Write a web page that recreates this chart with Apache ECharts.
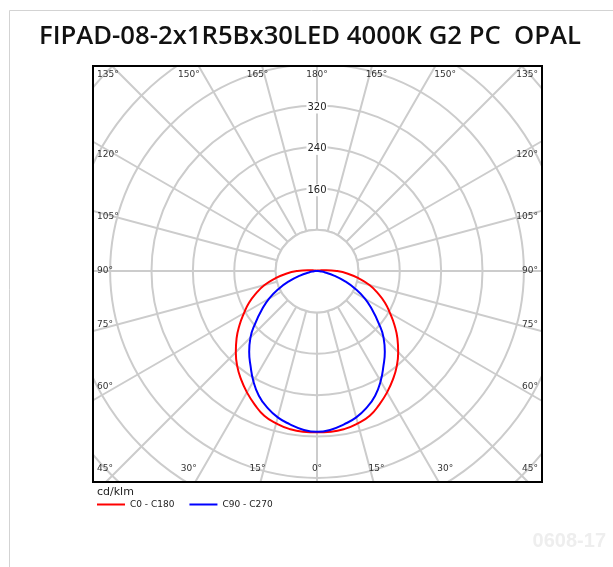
<!DOCTYPE html>
<html>
<head>
<meta charset="utf-8">
<script src="https://cdn.jsdelivr.net/npm/echarts@6/dist/echarts.min.js"></script>
<style>html,body{margin:0;padding:0;background:#fff;}#c{width:613px;height:567px;}</style>
</head>
<body>
<div id="c"></div>
<script>
// ---- data ----
const gammas = [0,5,10,15,20,25,30,35,40,45,50,55,60,65,70,75,80,85,90,95,100,105,120,135,150,165,180];
const c0c180 = [312,312,310,305,298,285,271,256,240,222,203,183,163,145,125,105,82,60,38,18,8,4,2,1,1,1,1];
const c90c270 = [311,308,301,293,281,266,246,224,204,182,155,130,107,82,57,34,16,6,2,1,0,0,0,0,0,0,0];
const radiusLabels = [160, 240, 320];
const topLabels = ['135°','150°','165°','180°','165°','150°','135°'];
const sideLabels = ['120°','105°','90°','75°','60°'];
const bottomLabels = ['45°','30°','15°','0°','15°','30°','45°'];
const seriesNames = ['C0 - C180', 'C90 - C270'];
const titleText = 'FIPAD-08-2x1R5Bx30LED 4000K G2 PC  OPAL';
const unitText = 'cd/klm';
const watermark = '0608-17';

// ---- layout ----
const CX = 317, CY = 271;
const RMAX = 640, RPX = 331;
const F = {l: 93, t: 66, r: 542, b: 482};
const LBL_FONT = 'DejaVu Sans';

// polar: startAngle 90 (top), clockwise. right half: a = 180 - gamma, left half: a = 180 + gamma
function buildCurve(vals) {
  const pts = [];
  for (let i = gammas.length - 1; i >= 0; i--) pts.push([vals[i], 180 - gammas[i]]);
  for (let i = 1; i < gammas.length; i++) pts.push([vals[i], 180 + gammas[i]]);
  return pts;
}

const graphics = [];
const W = 613, H = 567;
[[0,0,W,F.t],[0,F.b,W,H-F.b],[0,0,F.l,H],[F.r,0,W-F.r,H]].forEach(r => {
  graphics.push({type:'rect', z:50, silent:true, shape:{x:r[0],y:r[1],width:r[2],height:r[3]}, style:{fill:'#fff'}});
});
const holeR = 80 * RPX / RMAX;
graphics.push({type:'circle', z:5, silent:true, shape:{cx:CX, cy:CY, r:holeR}, style:{fill:'#fff', stroke:'#cccccc', lineWidth:2}});
graphics.push({type:'rect', z:51, silent:true, shape:{x:F.l, y:F.t, width:F.r-F.l, height:F.b-F.t}, style:{fill:null, stroke:'#000', lineWidth:2}});
graphics.push({type:'rect', z:52, silent:true, shape:{x:9.5, y:10.5, width:800, height:800}, style:{fill:null, stroke:'#d3d3d3', lineWidth:1}});
graphics.push({type:'text', z:60, x:310, y:37, style:{text:titleText, font:'600 25.7px "Open Sans"', fill:'#111', textAlign:'center', textVerticalAlign:'middle'}});
graphics.push({type:'text', z:60, x:97, y:492, style:{text:unitText, font:'11px "DejaVu Sans"', fill:'#222', textAlign:'left', textVerticalAlign:'middle'}});
graphics.push({type:'text', z:60, x:606, y:541, style:{text:watermark, font:'bold 20px "Liberation Sans"', fill:'#eeeeee', textAlign:'right', textVerticalAlign:'middle'}});

const HX = 222, HY = 201;
const lblStyle = (t, align) => ({text:t, font:'9px "' + LBL_FONT + '"', fill:'#333', textAlign:align, textVerticalAlign:'middle'});
const rowPhis = [-45,-30,-15,0,15,30,45];
function rowX(i) {
  const p = rowPhis[i];
  if (p === -45) return {x: F.l + 4, a: 'left'};
  if (p === 45) return {x: F.r - 4, a: 'right'};
  return {x: CX + HX * Math.tan(p * Math.PI / 180), a: 'center'};
}
topLabels.forEach((t, i) => { const p = rowX(i); graphics.push({type:'text', z:55, x:p.x, y:F.t + 9, style: lblStyle(t, p.a)}); });
bottomLabels.forEach((t, i) => { const p = rowX(i); graphics.push({type:'text', z:55, x:p.x, y:F.b - 13, style: lblStyle(t, p.a)}); });
const sidePsis = [30,15,0,-15,-30];
sideLabels.forEach((t, i) => {
  const y = CY - HY * Math.tan(sidePsis[i] * Math.PI / 180);
  graphics.push({type:'text', z:55, x:F.l + 4, y:y, style: lblStyle(t, 'left')});
  graphics.push({type:'text', z:55, x:F.r - 4, y:y, style: lblStyle(t, 'right')});
});

const chart = echarts.init(document.getElementById('c'), null, {renderer:'canvas', width:613, height:567});
chart.setOption({
  animation: false,
  backgroundColor: '#fff',
  polar: {center: [CX, CY], radius: RPX},
  angleAxis: {
    type: 'value', min: 0, max: 360, interval: 15, startAngle: 90, clockwise: true,
    axisLine: {show: false}, axisTick: {show: false}, axisLabel: {show: false},
    splitLine: {show: true, lineStyle: {color: '#cccccc', width: 2}}
  },
  radiusAxis: {
    type: 'value', min: 0, max: RMAX, interval: 80,
    axisLine: {show: false}, axisTick: {show: false}, axisLabel: {show: false},
    splitLine: {show: true, lineStyle: {color: '#cccccc', width: 2}}
  },
  legend: {
    data: seriesNames, left: 97, top: 500, padding: 0, icon: 'rect', itemWidth: 28, itemHeight: 2, itemGap: 15, z: 100,
    textStyle: {fontFamily: LBL_FONT, fontSize: 9, color: '#222'}
  },
  graphic: {elements: graphics},
  series: [
    {name: seriesNames[0], type: 'line', coordinateSystem: 'polar', data: buildCurve(c0c180), symbol: 'none', smooth: true, z: 10,
     lineStyle: {color: '#ff0000', width: 2}, itemStyle: {color: '#ff0000'}},
    {name: seriesNames[1], type: 'line', coordinateSystem: 'polar', data: buildCurve(c90c270), symbol: 'none', smooth: true, z: 11,
     lineStyle: {color: '#0000ff', width: 2}, itemStyle: {color: '#0000ff'}}
  ]
});

// radius labels on the upward (180°) spoke, placed through the polar scale
const rLabels = radiusLabels.map(v => {
  const p = chart.convertToPixel({seriesIndex: 0}, [v, 0]);
  return {type:'text', z:30, x:p[0], y:p[1] + 2,
          style:{text:String(v), font:'10px "' + LBL_FONT + '"', fill:'#222', textAlign:'center', textVerticalAlign:'middle',
                 backgroundColor:'#fff', padding:[1,1]}};
});
chart.setOption({graphic: {elements: graphics.concat(rLabels)}});
</script>
</body>
</html>
